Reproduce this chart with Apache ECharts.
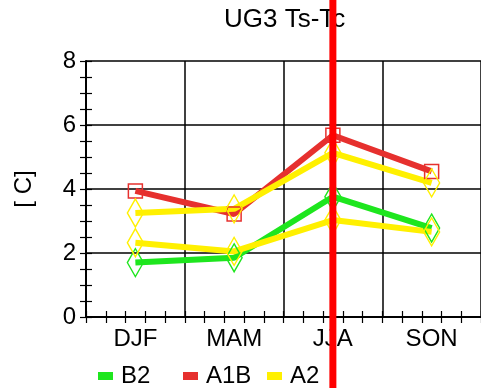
<!DOCTYPE html>
<html><head><meta charset="utf-8">
<script src="https://cdn.jsdelivr.net/npm/echarts@6/dist/echarts.min.js"></script>
<style>html,body{margin:0;padding:0;background:#fff}#c{width:481px;height:388px}</style>
</head><body><div id="c"></div>
<script>
var categories = ['DJF', 'MAM', 'JJA', 'SON'];
var b2 = [1.70, 1.85, 3.76, 2.78];
var a1b = [3.94, 3.22, 5.68, 4.55];
var a2Upper = [3.25, 3.38, 5.13, 4.19];
var a2Lower = [2.32, 2.05, 3.03, 2.66];
var yTicks = [0, 2, 4, 6, 8];
var titleText = 'UG3 Ts-Tc';
var yName = '[ C]';
var markedCategory = 'JJA';

var FONT = 'Liberation Sans';
var GREEN = '#1ee61e', RED = '#e6302e', YELLOW = '#fff000';
var gridRect = {left: 86, right: 0, top: 61, bottom: 71};
var yMin = yTicks[0], yMax = yTicks[yTicks.length - 1], yStep = yTicks[1] - yTicks[0];
var nCat = categories.length;

function lineSeries(name, data, color, symbol, size) {
  return {
    type: 'line', name: name, data: data, xAxisIndex: 0, yAxisIndex: 0,
    symbol: symbol, symbolSize: size, showAllSymbol: true,
    lineStyle: {color: color, width: 6},
    itemStyle: {color: 'rgba(0,0,0,0)', borderColor: color, borderWidth: 1.5},
    emphasis: {disabled: true}, animation: false
  };
}
function legendOf(name, color, left) {
  return {
    data: [{name: name, icon: 'rect', itemStyle: {color: color}}],
    left: left, top: 359, itemWidth: 13, itemHeight: 6,
    textStyle: {fontFamily: FONT, fontSize: 24, color: '#000', padding: [0, 0, 0, 4]},
    selectedMode: false
  };
}
var tickStyle = {color: '#000', width: 1.2};
var axLine = {show: true, lineStyle: {color: '#000', width: 1.5}};
function tickAxis(gi, pos, max, step) {
  return {type: 'value', gridIndex: gi, min: 0, max: max, interval: step, position: pos,
    axisLine: axLine, axisLabel: {show: false},
    axisTick: {show: true, inside: false, length: -6, lineStyle: tickStyle},
    splitLine: {show: false}};
}
var chart = echarts.init(document.getElementById('c'), null, {renderer: 'canvas'});
chart.setOption({
  animation: false,
  backgroundColor: '#fff',
  title: {text: titleText, left: 219, top: 2,
    textStyle: {fontFamily: FONT, fontSize: 26, fontWeight: 'normal', color: '#000'}},
  legend: [legendOf('B2', GREEN, 93), legendOf('A1B', RED, 178), legendOf('A2', YELLOW, 262)],
  grid: [Object.assign({}, gridRect), Object.assign({}, gridRect), Object.assign({}, gridRect)],
  xAxis: [
    {type: 'category', gridIndex: 0, data: categories, boundaryGap: true, position: 'bottom',
      axisLine: axLine, axisTick: {show: false}, splitLine: {show: false},
      axisLabel: {fontFamily: FONT, fontSize: 24, color: '#000', margin: 10}},
    tickAxis(1, 'bottom', nCat, 0.2),
    tickAxis(1, 'top', nCat, 0.2),
    {type: 'value', gridIndex: 2, min: 0, max: nCat, interval: 1, position: 'bottom',
      axisLine: {show: false}, axisLabel: {show: false}, axisTick: {show: false},
      splitLine: {show: true, lineStyle: {color: '#000', width: 1.5}}}
  ],
  yAxis: [
    {type: 'value', gridIndex: 0, min: yMin, max: yMax, interval: yStep,
      position: 'left', name: yName, nameLocation: 'middle', nameGap: 50, nameRotate: 90,
      nameTextStyle: {fontFamily: FONT, fontSize: 24, color: '#000'},
      axisLine: axLine, axisTick: {show: false},
      splitLine: {show: true, lineStyle: {color: '#000', width: 1.5}},
      axisLabel: {fontFamily: FONT, fontSize: 24, color: '#000', margin: 10}},
    tickAxis(1, 'left', yMax, yStep / 4),
    tickAxis(1, 'right', yMax, yStep / 4),
    {type: 'value', gridIndex: 2, min: yMin, max: yMax, show: false}
  ],
  series: [
    lineSeries('A1B', a1b, RED, 'rect', [14, 14]),
    lineSeries('B2', b2, GREEN, 'diamond', [16, 28]),
    lineSeries('A2', a2Lower, YELLOW, 'diamond', [16, 28]),
    lineSeries('A2', a2Upper, YELLOW, 'diamond', [16, 28]),
    {type: 'line', xAxisIndex: 1, yAxisIndex: 1, data: [], silent: true},
    {type: 'line', xAxisIndex: 3, yAxisIndex: 3, data: [], silent: true}
  ]
});
var px = chart.convertToPixel({xAxisIndex: 0}, markedCategory);
chart.setOption({
  graphic: [{type: 'rect', z: 100, shape: {x: px - 3.5, y: 0, width: 7, height: 388},
    style: {fill: '#ff0000'}, silent: true}]
});
</script></body></html>
